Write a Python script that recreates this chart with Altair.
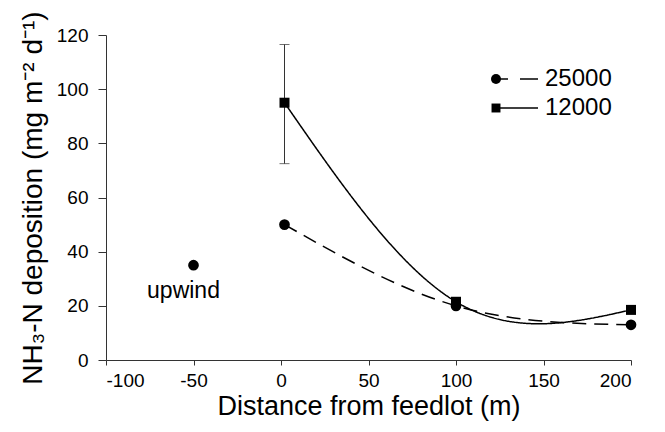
import altair as alt
import pandas as pd

# ---- data ----
distance = [2, 100, 200]
dep_25000 = [50, 20, 13]
dep_12000 = [95, 21.5, 18.5]
series_names = ["25000", "12000"]
err_x = [2]
err_low = [72.5]
err_high = [116.5]
upwind_x = [-50]
upwind_y = [35]
upwind_label = ["upwind"]
x_ticks = [-100, -50, 0, 50, 100, 150, 200]
y_ticks = [0, 20, 40, 60, 80, 100, 120]

rows = []
for name, vals in zip(series_names, [dep_25000, dep_12000]):
    for d, v in zip(distance, vals):
        rows.append({"series": name, "distance": d, "dep": v})
df = pd.DataFrame(rows)
err_df = pd.DataFrame({"distance": err_x, "lo": err_low, "hi": err_high})
up_df = pd.DataFrame({"distance": upwind_x, "dep": upwind_y, "label": upwind_label})
legend_df = pd.DataFrame({"series": series_names})

FONT = "Liberation Sans"
xscale = alt.Scale(domain=[-100, 200], nice=False, zero=False)
yscale = alt.Scale(domain=[0, 120], nice=False)

x_enc = alt.X("distance:Q", scale=xscale,
              axis=alt.Axis(values=x_ticks, title="Distance from feedlot (m)",
                            labelExpr="datum.value + ''",
                            tickSize=5, labelPadding=6, titlePadding=3, titleFontSize=27))
y_enc = alt.Y("dep:Q", scale=yscale,
              axis=alt.Axis(values=y_ticks, title="NH₃-N deposition (mg m⁻² d⁻¹)",
                            tickSize=8, labelPadding=10, titlePadding=9))

base = alt.Chart(df)

lines = base.mark_line(interpolate="natural", color="black", strokeWidth=1.5).encode(
    x=x_enc, y=y_enc,
    strokeDash=alt.StrokeDash("series:N",
                              scale=alt.Scale(domain=series_names, range=[[14, 8], [1, 0]]),
                              legend=None),
    detail="series:N",
)

pts_circle = base.transform_filter(alt.datum.series == "25000").mark_point(
    filled=True, color="black", opacity=1, shape="circle", size=115).encode(
    x="distance:Q", y="dep:Q")
pts_square = base.transform_filter(alt.datum.series == "12000").mark_point(
    filled=True, color="black", opacity=1, shape="square", size=100).encode(
    x="distance:Q", y="dep:Q")

err_rule = alt.Chart(err_df).mark_rule(color="#333", strokeWidth=1).encode(
    x="distance:Q", y="lo:Q", y2="hi:Q")
err_caps = alt.Chart(err_df).transform_fold(["lo", "hi"], as_=["k", "v"]).mark_tick(
    orient="horizontal", size=10, thickness=1, color="#333").encode(
    x="distance:Q", y="v:Q")

up_point = alt.Chart(up_df).mark_point(filled=True, color="black", opacity=1, size=115,
                                       shape="circle").encode(x="distance:Q", y="dep:Q")
up_text = alt.Chart(up_df).mark_text(dx=-10, dy=26, fontSize=23, font=FONT,
                                     color="black").encode(
    x="distance:Q", y="dep:Q", text="label:N")

# ---- legend (drawn as a key box in the upper right of the plot area) ----
LEG_MARKER_X = 390
LEG_TEXT_X = 439
LEG_ROW_Y = [44, 73]
legend_layers = []
for i, name in enumerate(series_names):
    ly = LEG_ROW_Y[i]
    ldf = alt.Chart(legend_df).transform_filter(alt.datum.series == name)
    if i == 0:
        segs = [(LEG_MARKER_X, 402), (414, 432)]
        shape, size = "circle", 100
    else:
        segs = [(LEG_MARKER_X, 432)]
        shape, size = "square", 80
    for a, b in segs:
        legend_layers.append(ldf.mark_rule(color="black", strokeWidth=1.5).encode(
            x=alt.value(a), x2=alt.value(b), y=alt.value(ly)))
    legend_layers.append(ldf.mark_point(filled=True, color="black", opacity=1,
                                        shape=shape, size=size).encode(
        x=alt.value(LEG_MARKER_X), y=alt.value(ly)))
    legend_layers.append(ldf.mark_text(align="left", baseline="middle", fontSize=24,
                                       font=FONT, color="black").encode(
        x=alt.value(LEG_TEXT_X), y=alt.value(ly), text="series:N"))

chart = alt.layer(
    err_rule, err_caps, lines, pts_circle, pts_square, up_point, up_text, *legend_layers
).properties(
    width=525, height=325,
    autosize=alt.AutoSizeParams(type="none"),
    padding={"left": 98, "top": 27, "right": 26, "bottom": 64},
).configure_view(stroke=None).configure_axis(
    grid=False, domainColor="#333", tickColor="#333", labelColor="black", titleColor="black",
    labelFont=FONT, titleFont=FONT, labelFontSize=19, titleFontSize=28,
    titleFontWeight="normal", domainWidth=1, tickWidth=1,
)

chart.save("out.html", embed_options={"renderer": "svg", "actions": False})
